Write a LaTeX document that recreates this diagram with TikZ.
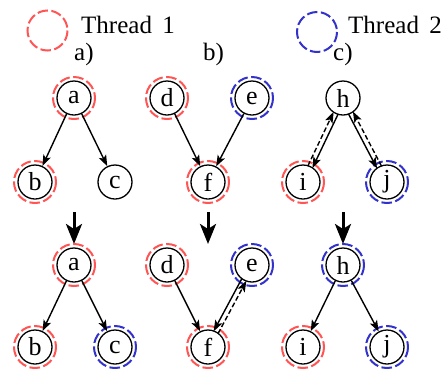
\documentclass[tikz,border=0pt]{standalone}
\usepackage{fontspec}
\setmainfont{Liberation Serif}
\usetikzlibrary{arrows.meta,calc}
\definecolor{tred}{HTML}{FF5555}
\definecolor{tblue}{HTML}{3333CC}
\tikzset{
  vtx/.style={circle,draw,line width=1.3pt,minimum size=34pt,inner sep=0pt,font=\fontsize{26}{30}\selectfont},
  ring1/.style={draw=tred,line width=2pt,dash pattern=on 10.5pt off 3.5pt},
  ring2/.style={draw=tblue,line width=2pt,dash pattern=on 10.5pt off 3.5pt},
  edge/.style={line width=1.4pt,-{Stealth[length=11pt,width=8pt,inset=2.5pt]}},
  dedge/.style={edge,dash pattern=on 5pt off 2.5pt},
  big/.style={line width=3pt,-{Stealth[length=20pt,width=16pt,inset=5pt]}},
  lbl/.style={anchor=base west,inner sep=0pt,font=\fontsize{25}{30}\selectfont},
}
\begin{document}
\begin{tikzpicture}[x=1pt,y=-1pt]
\useasboundingbox (0,0) rectangle (445,373);
% legend
\coordinate (l1) at (47.5,30.5);
\coordinate (l2) at (317,32);
\draw[ring1] (l1) circle[radius=20];
\draw[ring2] (l2) circle[radius=20];
\node[lbl] (t1) at (81,33) {Thread\, 1};
\node[lbl] (t2) at (348,33) {Thread\, 2};
\node[lbl] (la) at (74,60) {a)};
\node[lbl] (lb) at (203,60) {b)};
\node[lbl] (lc) at (333,60) {c)};
% top row
\node[vtx] (a) at (74,98) {a};
\node[vtx] (b) at (35,182) {b};
\node[vtx] (c) at (115,182) {c};
\node[vtx] (d) at (167,98) {d};
\node[vtx] (e) at (252,98) {e};
\node[vtx] (f) at (208,182) {f};
\node[vtx] (h) at (343,98) {h};
\node[vtx] (i) at (303,182) {i};
\node[vtx] (j) at (387,182) {j};
\draw[ring1] (a) circle[radius=21];
\draw[ring1] (b) circle[radius=21];
\draw[ring1] (d) circle[radius=21];
\draw[ring2] (e) circle[radius=21];
\draw[ring1] (f) circle[radius=21];
\draw[ring1] (i) circle[radius=21];
\draw[ring2] (j) circle[radius=21];
\draw[edge] (a) -- (b);
\draw[edge] (a) -- (c);
\draw[edge] (d) -- (f);
\draw[edge] (e) -- (f);
\draw[edge,shorten <=16.6pt,shorten >=16.6pt] ($(h)!2.5pt!90:(i)$) -- ($(i)!2.5pt!-90:(h)$);
\draw[dedge,shorten <=16.6pt,shorten >=16.6pt] ($(i)!2.5pt!90:(h)$) -- ($(h)!2.5pt!-90:(i)$);
\draw[edge,shorten <=16.6pt,shorten >=16.6pt] ($(h)!2.5pt!-90:(j)$) -- ($(j)!2.5pt!90:(h)$);
\draw[dedge,shorten <=16.6pt,shorten >=16.6pt] ($(j)!2.5pt!-90:(h)$) -- ($(h)!2.5pt!90:(j)$);
% transitions
\coordinate (s1) at (74,212);   \coordinate (e1) at (74,244);
\coordinate (s2) at (208,212);  \coordinate (e2) at (208,244);
\coordinate (s3) at (343,212);  \coordinate (e3) at (343,244);
\draw[big] (s1) -- (e1);
\draw[big] (s2) -- (e2);
\draw[big] (s3) -- (e3);
% bottom row
\node[vtx] (a2) at (74,265) {a};
\node[vtx] (b2) at (35,347) {b};
\node[vtx] (c2) at (115,347) {c};
\node[vtx] (d2) at (167,265) {d};
\node[vtx] (e2n) at (252,265) {e};
\node[vtx] (f2) at (208,347) {f};
\node[vtx] (h2) at (343,265) {h};
\node[vtx] (i2) at (303,347) {i};
\node[vtx] (j2) at (387,347) {j};
\draw[ring1] (a2) circle[radius=21];
\draw[ring1] (b2) circle[radius=21];
\draw[ring2] (c2) circle[radius=21];
\draw[ring1] (d2) circle[radius=21];
\draw[ring2] (e2n) circle[radius=21];
\draw[ring1] (f2) circle[radius=21];
\draw[ring2] (h2) circle[radius=21];
\draw[ring1] (i2) circle[radius=21];
\draw[ring2] (j2) circle[radius=21];
\draw[edge] (a2) -- (b2);
\draw[edge] (a2) -- (c2);
\draw[edge] (d2) -- (f2);
\draw[edge] (h2) -- (i2);
\draw[edge] (h2) -- (j2);
\draw[edge,shorten <=16.6pt,shorten >=16.6pt] ($(e2n)!2.5pt!-90:(f2)$) -- ($(f2)!2.5pt!90:(e2n)$);
\draw[dedge,shorten <=16.6pt,shorten >=16.6pt] ($(f2)!2.5pt!-90:(e2n)$) -- ($(e2n)!2.5pt!90:(f2)$);
\end{tikzpicture}
\end{document}
